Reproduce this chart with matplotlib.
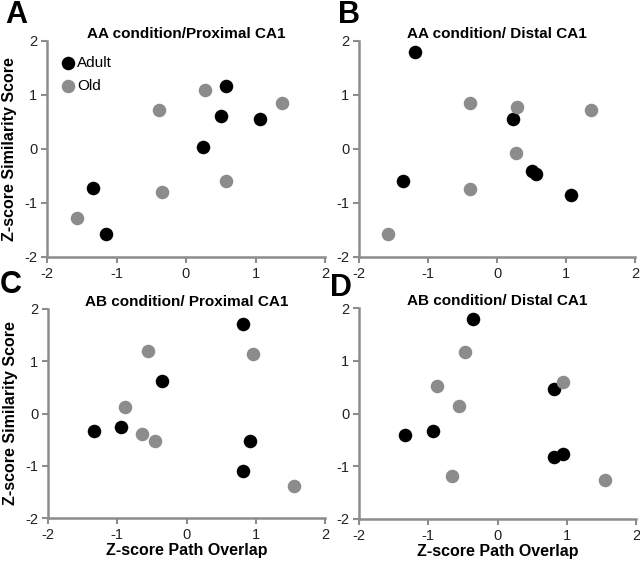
import numpy as np
import matplotlib
matplotlib.use("Agg")
import matplotlib.pyplot as plt

plt.rcParams['font.family'] = ['Liberation Sans', 'DejaVu Sans']
plt.rcParams['axes.unicode_minus'] = False

# values (x = path overlap, y = similarity score)
titles = ["AA condition/Proximal CA1", "AA condition/ Distal CA1",
          "AB condition/ Proximal CA1", "AB condition/ Distal CA1"]
letters = ["A", "B", "C", "D"]

adult_x_A = [0.57, 0.51, 1.07, 0.25, -1.34, -1.15]
adult_y_A = [1.16, 0.62, 0.55, 0.04, -0.73, -1.58]
old_x_A = [0.28, -0.39, 1.38, -0.34, 0.57, -1.57]
old_y_A = [1.10, 0.73, 0.85, -0.79, -0.60, -1.27]

adult_x_B = [-1.19, 0.23, -1.36, 0.51, 0.57, 1.07]
adult_y_B = [1.80, 0.55, -0.60, -0.41, -0.47, -0.86]
old_x_B = [-0.39, 0.29, 1.36, 0.28, -0.39, -1.58]
old_y_B = [0.85, 0.78, 0.72, -0.07, -0.74, -1.58]

adult_x_C = [0.82, -0.35, -1.33, -0.94, 0.91, 0.82]
adult_y_C = [1.72, 0.62, -0.33, -0.26, -0.53, -1.11]
old_x_C = [-0.56, 0.96, -0.89, -0.64, -0.46, 1.55]
old_y_C = [1.20, 1.13, 0.13, -0.39, -0.53, -1.38]

adult_x_D = [-0.36, 0.81, -1.33, -0.93, 0.81, 0.94]
adult_y_D = [1.80, 0.46, -0.41, -0.34, -0.83, -0.76]
old_x_D = [-0.47, 0.94, -0.88, -0.56, -0.65, 1.55]
old_y_D = [1.17, 0.60, 0.53, 0.15, -1.19, -1.27]

adult = [(adult_x_A, adult_y_A), (adult_x_B, adult_y_B), (adult_x_C, adult_y_C), (adult_x_D, adult_y_D)]
old = [(old_x_A, old_y_A), (old_x_B, old_y_B), (old_x_C, old_y_C), (old_x_D, old_y_D)]

W, H = 640, 561
fig = plt.figure(figsize=(W / 100, H / 100), dpi=100)

# axes boxes in pixels: left, top, right, bottom
boxes = [(47, 41, 325, 257), (359, 41, 635, 257),
         (48, 309, 325, 518), (359, 308, 636, 519)]
# panel letter top-left corners in pixels
letter_pos = [(5, 0), (338, 0), (0, 270), (330, 273)]

grey = '#8c8c8c'
for i, (l, t, r, b) in enumerate(boxes):
    ax = fig.add_axes([l / W, 1 - b / H, (r - l) / W, (b - t) / H])
    ax.scatter(*adult[i], s=95, color='black', zorder=3, label='Adult', linewidths=0)
    ax.scatter(*old[i], s=95, color=grey, zorder=3, label='Old', linewidths=0)
    ax.set_xlim(-2, 2)
    ax.set_ylim(-2, 2)
    ax.set_xticks([-2, -1, 0, 1, 2])
    ax.set_yticks([-2, -1, 0, 1, 2])
    for s in ['top', 'right']:
        ax.spines[s].set_visible(False)
    for s in ['left', 'bottom']:
        ax.spines[s].set_color(grey)
        ax.spines[s].set_linewidth(1.8)
    ax.tick_params(direction='out', length=4, width=1.5, color=grey,
                   labelsize=10.5, labelcolor='#222222', pad=3)
    ax.set_title(titles[i], fontsize=11, fontweight='bold', pad=2)
    if i in (0, 2):
        ax.set_ylabel('Z-score Similarity Score', fontsize=11.5, fontweight='bold', labelpad=5)
    if i in (2, 3):
        ax.set_xlabel('Z-score Path Overlap', fontsize=11.5, fontweight='bold', labelpad=1)
    if i == 0:
        ax.legend(loc='upper left', frameon=False, handletextpad=-0.4, fontsize=11,
                  borderaxespad=0.0, labelspacing=0.55, borderpad=0.0,
                  bbox_to_anchor=(0.02, 0.93))
    lx, ly = letter_pos[i]
    fig.text(lx / W, 1 - ly / H, letters[i], fontsize=22,
             fontweight='bold', va='top', ha='left')

fig.savefig('out.png', dpi=100)
